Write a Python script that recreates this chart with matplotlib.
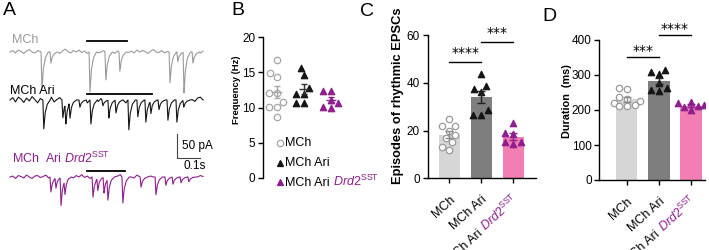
import numpy as np
import matplotlib
matplotlib.use("Agg")
import matplotlib.pyplot as plt
import matplotlib.transforms as mtransforms
import seaborn as sns

plt.rcParams['font.family'] = ['Liberation Sans', 'DejaVu Sans']
plt.rcParams['mathtext.fontset'] = 'custom'
plt.rcParams['mathtext.rm'] = 'Liberation Sans'
plt.rcParams['mathtext.it'] = 'Liberation Sans:italic'
plt.rcParams['mathtext.bf'] = 'Liberation Sans:bold'
plt.rcParams['axes.linewidth'] = 1.0

# ---------------- data ----------------
# A: example traces. baseline wobble sampled every 12 ms (pA), EPSC events (ms, pA)
NOISE_STEP = 12
noise_mch = [0, 3, -2, 4, 1, -3, 2, 5, 0, -2, 3, 1, -4, 2, 4, -1, 3, 0, -3, 2, 6, 1, -2, 3,
             0, 4, -1, 2, -3, 1, 5, 2, -2, 0, 3, -1, 4, 1, -3, 2, 0, 5, 3, -1, 2, -2, 4, 0,
             3, 1, -3, 2, 5, 0, -1, 3, -2, 1, 4, 0, 2, -3, 1, 3, -1, 2, 0, 4, 1, -2, 2]
noise_ari = [0, 5, -4, 6, 2, -5, 4, -2, 7, 1, -6, 3, 5, -3, 2, 6, -4, 1, 5, -2, 4, -5, 3, 7,
             0, -4, 5, 2, -6, 4, 1, 6, -3, 3, -5, 2, 7, -1, 4, -4, 5, 0, -6, 3, 6, -2, 4, -5,
             2, 5, -3, 1, 6, -4, 3, 0, 5, -2, 4, -6, 3, 6, -1, 2, -4, 5, 1, -3, 4, 6, 0]
noise_drd2 = [0, 2, -3, 3, 1, -2, 4, 0, -3, 2, 3, -1, 1, 4, -2, 0, 3, -3, 2, 1, -1, 4, 2, -2,
              3, 0, 5, -1, 2, -3, 3, 1, -2, 4, 0, -1, 3, 6, -2, 2, 5, -1, 3, 7, 0, -2, 4, 6,
              1, -3, 5, 2, 0, 4, -2, 3, 1, 5, -1, 2, 4, 0, -3, 3, 1, 2, -2, 4, 0, 3, 1]

ev_mch_t = [135, 174, 344, 413, 474, 692, 726, 753, 792]
ev_mch_a = [-79, -23, -83, -58, -40, -64, -20, -85, -23]
ev_ari_t = [143, 226, 239, 257, 300, 348, 400, 426, 457, 513, 552, 587, 609, 644, 683, 722, 752]
ev_ari_a = [-60, -37, -42, -33, -15, -50, -12, -37, -27, -62, -35, -46, -25, -20, -42, -46, -15]
ev_drd2_t = [174, 196, 218, 235, 357, 378, 405, 422, 487, 566, 631, 674, 705, 740, 774]
ev_drd2_a = [-31, -21, -58, -29, -42, -25, -33, -44, -54, -21, -37, -17, -15, -12, -10]

# rhythmic episodes (ms)
episode_mch = [335, 509]
episode_ari = [335, 618]
episode_drd2 = [335, 500]

# B: frequency (Hz)
freq_mch = [16.8, 14.9, 14.3, 12.1, 12.1, 10.8, 10.1, 10.1, 8.7]
freq_ari = [15.6, 14.6, 12.7, 11.9, 11.9, 10.7, 10.7]
freq_drd2 = [12.4, 12.4, 11.1, 10.6, 10.0, 10.1]

# C: episodes of rhythmic EPSCs
episodes_mch = [25, 22, 22, 20, 18, 17, 15, 13, 12]
episodes_ari = [43.5, 38.5, 37.5, 36, 28.5, 26.5, 26.5]
episodes_drd2 = [23, 19, 18.5, 15, 15, 14.5]

# D: duration (ms)
duration_mch = [262, 260, 238, 232, 225, 220, 214, 212, 210]
duration_ari = [315, 308, 302, 278, 262, 258, 255]
duration_drd2 = [222, 220, 215, 212, 208, 200]

sig_c = [(0, 1, "****"), (1, 2, "***")]
sig_d = [(0, 1, "***"), (1, 2, "****")]

# ---------------- style ----------------
GRAY_TR = '#9a9a9a'
PURPLE = '#8E1F8E'
BAR_COLORS = ['#d6d6d6', '#7e7e7e', '#f27fb4']
ERR_COLORS = ['#8c8c8c', '#222222', PURPLE]
DRD2 = r'$\mathit{Drd2}^{\mathrm{SST}}$'

W, H = 709, 250
fig = plt.figure(figsize=(W / 100, H / 100), dpi=100)
renderer = fig.canvas.get_renderer()


def fx(x):
    return x / W


def fy(y):
    return 1 - y / H


def chain_text(x, y, parts, transform, angle=0, ha='left', size=9, gap=0.28):
    # draw coloured pieces one after another along the text direction
    c, s = np.cos(np.radians(angle)), np.sin(np.radians(angle))
    space = gap * size * fig.dpi / 72
    seq = parts if ha == 'left' else parts[::-1]
    shift = 0.0
    for txt, col in seq:
        d = shift if ha == 'left' else -shift
        tr = mtransforms.offset_copy(transform, fig=fig, x=d * c, y=d * s, units='dots')
        t = fig.text(x, y, txt, color=col, transform=tr, ha=ha, va='baseline',
                     rotation_mode='anchor', fontsize=size)
        shift += t.get_window_extent(renderer).width + space
        t.set_rotation(angle)


def panel_letter(x, y, s):
    fig.text(fx(x), fy(y), s, fontsize=14, va='top', ha='left')


# ---------------- A ----------------
MS_PER_PX = 4.35
PA_PER_PX = 2.08
SHAPE_T = np.array([0, 4, 10, 19, 32])
SHAPE_F = np.array([0, 1.0, 0.45, 0.15, 0])


def build_trace(noise, ev_t, ev_a):
    t_noise = np.arange(len(noise)) * NOISE_STEP
    keep = np.ones(len(t_noise), bool)
    for t0 in ev_t:
        keep &= (t_noise < t0 - 2) | (t_noise > t0 + SHAPE_T[-1] + 2)
    t_ev = np.concatenate([t0 + SHAPE_T for t0 in ev_t])
    t = np.concatenate([t_noise[keep], t_ev]).astype(float)
    y = np.concatenate([np.array(noise, float)[keep], np.zeros(len(t_ev))])
    order = np.argsort(t, kind='stable')
    t, y = t[order], y[order]
    for t0, a in zip(ev_t, ev_a):
        y += np.interp(t - t0, SHAPE_T, SHAPE_F * a, left=0, right=0)
    return t, y


ax_a = fig.add_axes([0, 0, fx(230), 1])
ax_a.set_xlim(-10 * MS_PER_PX, 220 * MS_PER_PX)
ax_a.set_ylim(-H * PA_PER_PX, 0)
ax_a.axis('off')

traces = [
    (noise_mch, ev_mch_t, ev_mch_a, episode_mch, GRAY_TR, 52, 11),
    (noise_ari, ev_ari_t, ev_ari_a, episode_ari, '#151515', 100, 6),
    (noise_drd2, ev_drd2_t, ev_drd2_a, episode_drd2, PURPLE, 177, 6),
]
for noise, evt, eva, ep, col, base_px, bar_px in traces:
    base = -base_px * PA_PER_PX
    t, y = build_trace(noise, evt, eva)
    ax_a.plot(t, y + base, color=col, lw=0.8)
    ax_a.plot(ep, [base + bar_px * PA_PER_PX] * 2, color='black', lw=1.3)

# scale bar 50 pA / 0.1 s
sb_t, sb_y = 167 * MS_PER_PX, -158 * PA_PER_PX
ax_a.plot([sb_t, sb_t, sb_t + 100], [sb_y + 50, sb_y, sb_y], color='#444444', lw=0.8)
fig.text(fx(182), fy(146), '50 pA', fontsize=8.5, va='center')
fig.text(fx(183), fy(166), '0.1s', fontsize=8.5, va='center')

fig.text(fx(12), fy(40), 'MCh', color=GRAY_TR, fontsize=9, va='center')
fig.text(fx(10), fy(91), 'MCh Ari', color='black', fontsize=9, va='center')
fig.text(fx(12), fy(158), 'MCh  Ari ' + DRD2, color=PURPLE, fontsize=9, va='center')
panel_letter(3, 2, 'A')

# ---------------- B ----------------
ax_b = fig.add_axes([fx(263), fy(178), 87 / W, 141 / H])
b_sets = [freq_mch, freq_ari, freq_drd2]
b_marker = [('o', 'white', '#a6a6a6'), ('^', '#151515', '#151515'), ('^', PURPLE, PURPLE)]
b_err = ['#a6a6a6', '#333333', PURPLE]
for i, (vals, (m, fc, ec)) in enumerate(zip(b_sets, b_marker)):
    pos = i + 1
    sns.swarmplot(x=np.full(len(vals), pos), y=vals, native_scale=True, orient='x', ax=ax_b,
                  marker=m, color=fc, edgecolor=ec, linewidth=0.9, size=4.6, zorder=3)
    mean = np.mean(vals)
    sem = np.std(vals, ddof=1) / np.sqrt(len(vals))
    ax_b.errorbar(pos, mean, yerr=sem, fmt='none', ecolor=b_err[i], elinewidth=1,
                  capsize=2.5, capthick=1, zorder=4)
    ax_b.hlines(mean, pos - 0.2, pos + 0.2, color=b_err[i], lw=1, zorder=4)
ax_b.set_ylim(0, 20)
ax_b.set_xlim(0.48, 3.7)
ax_b.set_yticks([0, 5, 10, 15, 20])
ax_b.set_xticks([])
ax_b.set_xlabel('')
ax_b.set_ylabel('')
for sp in ['top', 'right', 'bottom']:
    ax_b.spines[sp].set_visible(False)
ax_b.tick_params(axis='y', length=3.5, width=1, pad=2, labelsize=8.5)
fig.text(fx(236.5), fy(89.5), 'Frequency (Hz)', rotation=90, fontsize=6.8,
         fontweight='bold', ha='center', va='center')
panel_letter(231, 2, 'B')

# legend of B
leg = fig.add_axes([0, 0, 1, 1], facecolor='none')
leg.set_xlim(0, W)
leg.set_ylim(H, 0)
leg.axis('off')
for (m, fc, ec), yy in zip(b_marker, [143, 163, 182]):
    leg.plot([280], [yy], marker=m, ms=4.6, mfc=fc, mec=ec, mew=0.9, ls='none')
fig.text(fx(285), fy(143), 'MCh', fontsize=9, va='center')
fig.text(fx(285), fy(163), 'MCh Ari', fontsize=9, va='center')
chain_text(fx(285), fy(186), [('MCh Ari', 'black'), (DRD2, PURPLE)], fig.transFigure, size=9)

# ---------------- C & D ----------------
tick_parts = [[('MCh', 'black')], [('MCh Ari', 'black')], [('MCh Ari', 'black'), (DRD2, PURPLE)]]
pt_style = [('o', 'white', '#9a9a9a'), ('^', '#151515', '#151515'), ('^', PURPLE, PURPLE)]


def bar_panel(rect, sets, ylim, yticks, xlim, sigs, sig_h, star_gap):
    ax = fig.add_axes(rect)
    for i, vals in enumerate(sets):
        mean = np.mean(vals)
        sem = np.std(vals, ddof=1) / np.sqrt(len(vals))
        ax.bar(i, mean, width=0.67, color=BAR_COLORS[i], zorder=1)
        m, fc, ec = pt_style[i]
        sns.swarmplot(x=np.full(len(vals), i), y=vals, native_scale=True, orient='x', ax=ax,
                      marker=m, color=fc, edgecolor=ec, linewidth=0.9, size=4.6, zorder=3)
        ax.errorbar(i, mean, yerr=sem, fmt='none', ecolor=ERR_COLORS[i], elinewidth=1,
                    capsize=3, capthick=1, zorder=4)
    for (a, b, stars), h in zip(sigs, sig_h):
        ax.plot([a, b], [h, h], color='black', lw=1, clip_on=False)
        ax.text((a + b) / 2, h + star_gap, stars, ha='center', va='center',
                fontsize=10, family='DejaVu Sans', clip_on=False)
    ax.set_ylim(*ylim)
    ax.set_xlim(*xlim)
    ax.set_yticks(yticks)
    ax.set_xticks([0, 1, 2])
    ax.set_xticklabels([])
    ax.set_xlabel('')
    ax.set_ylabel('')
    for sp in ['top', 'right']:
        ax.spines[sp].set_visible(False)
    ax.tick_params(length=3.5, width=1, pad=2, labelsize=8.5)
    base_tr = ax.get_xaxis_transform() + mtransforms.ScaledTranslation(
        4.5 / 72, -16 / 72, fig.dpi_scale_trans)
    for i, parts in enumerate(tick_parts):
        chain_text(i, 0, parts, base_tr, angle=42, ha='right', size=9)
    return ax


bar_panel([fx(427.7), fy(178.3), 108 / W, 143.3 / H],
          [episodes_mch, episodes_ari, episodes_drd2], (0, 60), [0, 20, 40, 60],
          (-0.68, 2.7), sig_c, [48.8, 57.2], 3.6)
fig.text(fx(398.5), fy(96), 'Episodes of rhythmic EPSCs', rotation=90, fontsize=9.3,
         fontweight='bold', ha='center', va='center')
panel_letter(360, 3, 'C')

bar_panel([fx(599.3), fy(180), 105.7 / W, 140 / H],
          [duration_mch, duration_ari, duration_drd2], (0, 400), [0, 100, 200, 300, 400],
          (-0.85, 2.43), sig_d, [352, 414], 17)
fig.text(fx(567.5), fy(101.5), 'Duration  (ms)', rotation=90, fontsize=7.8,
         fontweight='bold', ha='center', va='center')
panel_letter(542, 8, 'D')

fig.savefig('out.png', dpi=100)
